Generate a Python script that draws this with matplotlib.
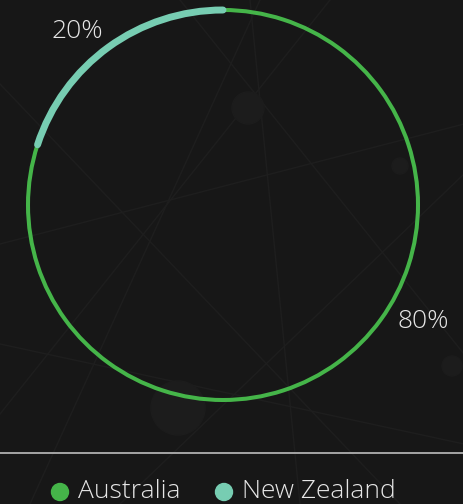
import matplotlib.pyplot as plt
from matplotlib.patches import Arc, Circle
from matplotlib import font_manager

countries = ['Australia', 'New Zealand']
shares = [80, 20]
colors = ['#45b549', '#77cdb2']

bg = '#171717'
fig = plt.figure(figsize=(4.64, 5.04), dpi=100, facecolor=bg)
ax = fig.add_axes([0, 0, 1, 1])
ax.set_xlim(0, 464)
ax.set_ylim(0, 504)
ax.set_aspect('equal')
ax.axis('off')
ax.set_facecolor(bg)

# faint background network
net_lines = [((0, 160), (464, 60)), ((30, 0), (260, 504)), ((120, 0), (464, 330)),
             ((0, 420), (400, 0)), ((250, 504), (300, 0)), ((0, 260), (464, 380)),
             ((180, 504), (464, 150)), ((0, 90), (330, 504))]
for (x0, y0), (x1, y1) in net_lines:
    ax.plot([x0, x1], [y0, y1], color='#1e1e1e', lw=1, zorder=0)
for cx, cy, r in [(248, 396, 16), (178, 96, 27), (452, 138, 10), (400, 338, 8)]:
    ax.add_patch(Circle((cx, cy), r, color='#1c1c1c', zorder=0))

# ring
cx, cy, r = 223, 299, 195
total = sum(shares)
start = 90
nz_span = shares[1] / total * 360
ax.add_patch(Arc((cx, cy), 2 * r, 2 * r, theta1=start + nz_span, theta2=start + 360,
                 color=colors[0], lw=2.9, zorder=2))
nz_arc = Arc((cx, cy), 2 * r, 2 * r, theta1=start, theta2=start + nz_span,
             color=colors[1], lw=5, zorder=3)
nz_arc.set_capstyle('round')
ax.add_patch(nz_arc)

# pick a light face if one is installed
names = {f.name for f in font_manager.fontManager.ttflist}
fam = 'Open Sans Light' if 'Open Sans Light' in names else 'Open Sans'
font = dict(family=fam, weight=300, color='#e6e6e6', fontsize=19)
ax.text(77, 472, f'{shares[1]}%', ha='center', va='center', **font)
ax.text(423, 182, f'{shares[0]}%', ha='center', va='center', **font)

# separator + legend
ax.plot([0, 464], [51, 51], color='#bdbdbd', lw=1.2)
legend_x = [60, 224]
for x, name, c in zip(legend_x, countries, colors):
    ax.add_patch(Circle((x, 12), 8.5, color=c))
    ax.text(x + 18, 13, name, ha='left', va='center', **font)

fig.savefig('out.png', dpi=100, facecolor=bg)
